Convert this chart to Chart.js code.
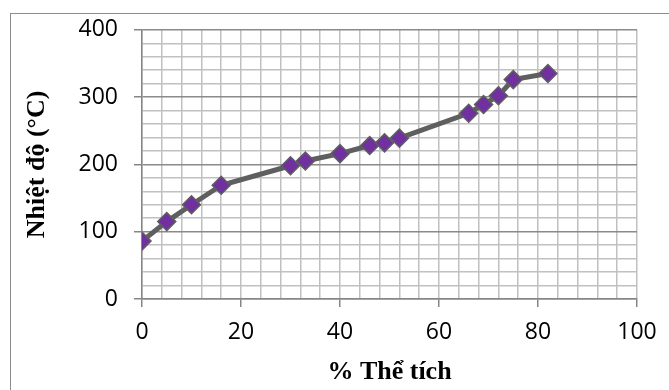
<!DOCTYPE html>
<html>
<head>
<meta charset="utf-8">
<script src="https://cdn.jsdelivr.net/npm/chart.js@4/dist/chart.umd.min.js"></script>
<style>
  html, body { margin: 0; padding: 0; background: #ffffff; }
  #wrap { position: relative; width: 669px; height: 390px; }
  #frame { position: absolute; left: 10px; top: 13px; width: 680px; height: 400px; border: 1px solid #8c8c8c; box-sizing: border-box; }
  canvas { position: absolute; left: 0; top: 0; }
</style>
</head>
<body>
<div id="wrap">
  <div id="frame"></div>
  <canvas id="c" width="669" height="390"></canvas>
</div>
<script>
const volumePercent = [0, 5, 10, 16, 30, 33, 40, 46, 49, 52, 66, 69, 72, 75, 82];
const temperature = [86, 115, 140, 169, 198, 205, 216, 228, 232, 239, 276, 289, 302, 326, 335];
const xTickLabels = [0, 20, 40, 60, 80, 100];
const yTickLabels = [0, 100, 200, 300, 400];
const xTitle = '% Thể tích';
const yTitle = 'Nhiệt độ (°C)';

const points = volumePercent.map((x, i) => ({ x: x, y: temperature[i] }));

new Chart(document.getElementById('c'), {
  type: 'scatter',
  data: {
    datasets: [{
      data: points,
      showLine: true,
      borderColor: '#5f5f5f',
      borderWidth: 5,
      pointStyle: 'rectRot',
      pointRadius: 9,
      pointHoverRadius: 9,
      pointBackgroundColor: '#7030A0',
      pointBorderColor: '#5f5f5f',
      pointBorderWidth: 1.5,
      tension: 0
    }]
  },
  options: {
    responsive: false,
    animation: false,
    devicePixelRatio: 1,
    layout: { padding: { left: 0, top: 29, right: 32, bottom: 0 } },
    plugins: { legend: { display: false }, tooltip: { enabled: false } },
    scales: {
      x: {
        type: 'linear',
        min: 0, max: 100,
        afterBuildTicks: (s) => { s.ticks = []; for (let v = 0; v <= 100; v += 4) s.ticks.push({ value: v }); },
        ticks: {
          autoSkip: false,
          maxRotation: 0,
          padding: 12,
          color: '#000000',
          font: { family: 'Open Sans', size: 23 },
          callback: (v) => xTickLabels.includes(v) ? String(v) : ''
        },
        grid: {
          color: '#c0c0c0',
          lineWidth: 1.5,
          tickLength: 8,
          tickColor: (ctx) => (ctx.tick && xTickLabels.includes(ctx.tick.value)) ? '#868686' : 'rgba(0,0,0,0)'
        },
        border: { color: '#868686', width: 1.5 },
        title: {
          display: true,
          text: xTitle,
          color: '#000000',
          font: { family: 'Liberation Serif', size: 26, weight: 'bold', lineHeight: 1 },
          padding: { top: 0, bottom: 5 }
        },
        afterFit: (s) => { s.height = 91; }
      },
      y: {
        type: 'linear',
        min: 0, max: 400,
        afterBuildTicks: (s) => { s.ticks = []; for (let v = 0; v <= 400; v += 20) s.ticks.push({ value: v }); },
        ticks: {
          autoSkip: false,
          padding: 16,
          color: '#000000',
          font: { family: 'Open Sans', size: 23 },
          callback: (v) => yTickLabels.includes(v) ? String(v) : ''
        },
        grid: {
          color: (ctx) => (ctx.tick && yTickLabels.includes(ctx.tick.value)) ? '#8a8a8a' : '#c0c0c0',
          lineWidth: 1.5,
          tickLength: 8,
          tickColor: (ctx) => (ctx.tick && yTickLabels.includes(ctx.tick.value)) ? '#868686' : 'rgba(0,0,0,0)'
        },
        border: { color: '#868686', width: 1.5 },
        title: {
          display: true,
          text: yTitle,
          color: '#000000',
          font: { family: 'Liberation Serif', size: 26, weight: 'bold', lineHeight: 1 },
          padding: { top: 24, bottom: 0 }
        },
        afterFit: (s) => { s.width = 142; }
      }
    }
  }
});
</script>
</body>
</html>
